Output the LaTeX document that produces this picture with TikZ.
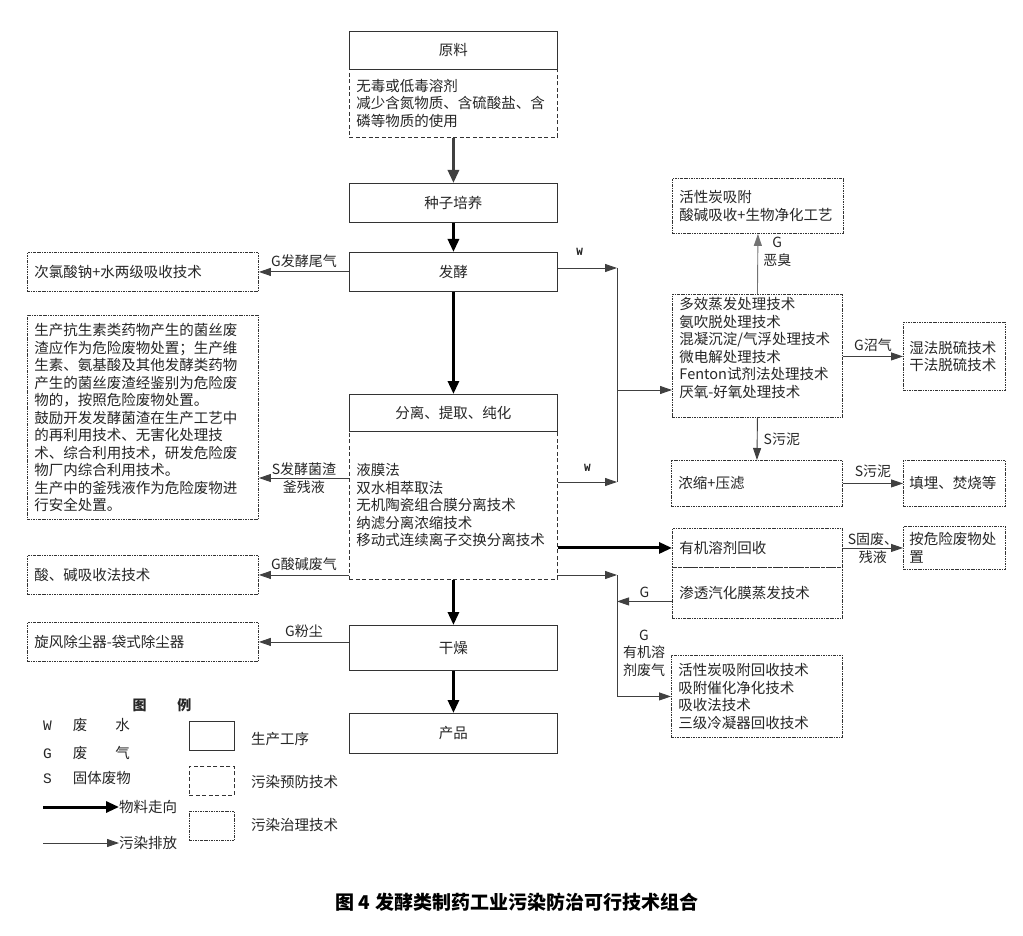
\documentclass[tikz,border=0pt]{standalone}
\usepackage{fontspec}
\setmainfont{Noto Sans CJK SC}
\setmonofont{Liberation Mono}
\usetikzlibrary{arrows.meta}

\begin{document}
\begin{tikzpicture}[x=1pt, y=-1pt,
  every node/.style={font=\fontsize{14.5}{17.5}\selectfont, text=black!85, inner sep=0pt},
  proc/.style={draw=black!80, line width=0.9pt, anchor=north west, minimum width=208pt},
  prev/.style={draw=black!80, line width=0.9pt, dash pattern=on 4pt off 2.5pt, anchor=north west, align=left, inner xsep=7pt},
  treat/.style={draw=black!80, line width=0.9pt, dash pattern=on 2.5pt off 1pt on 0.8pt off 1pt, anchor=north west, align=left, inner xsep=7pt},
  flow/.style={line width=3pt, -{Triangle[length=13pt, width=11pt]}},
  emis/.style={draw=black!75, line width=0.9pt, -{Triangle[length=12pt, width=8pt]}},
  lab/.style={font=\fontsize{14}{17.5}\selectfont, align=center},
  wlab/.style={font=\ttfamily\bfseries\fontsize{11}{13}\selectfont}]
\useasboundingbox (0,0) rectangle (1023,936);
\fill [white] (0,0) rectangle (1023,936);

% production line
\node [proc, minimum height=38pt] (yl) at (349,31) {原料};
\node [prev, text width=194pt, minimum height=68pt] (yld) at (349,69) {无毒或低毒溶剂\\减少含氮物质、含硫酸盐、含\\磷等物质的使用};
\node [proc, minimum height=39pt] (zp) at (349,183) {种子培养};
\node [proc, minimum height=39pt] (fj) at (349,252) {发酵};
\node [proc, minimum height=37pt] (fl) at (349,394) {分离、提取、纯化};
\node [prev, text width=194pt, minimum height=148pt] (fld) at (349,431) {液膜法\\双水相萃取法\\无机陶瓷组合膜分离技术\\纳滤分离浓缩技术\\移动式连续离子交换分离技术};
\node [proc, minimum height=45pt] (gz) at (349,625) {干燥};
\node [proc, minimum height=40pt] (cp) at (349,713) {产品};

\draw [flow, black!75] (yld.south) -- (zp.north);
\draw [flow] (zp.south) -- (fj.north);
\draw [flow] (fj.south) -- (fl.north);
\draw [flow] (fld.south) -- (gz.north);
\draw [flow] (gz.south) -- (cp.north);

% left side
\node [treat, text width=217pt, minimum height=39pt] (cl) at (27,252) {次氯酸钠+水两级吸收技术};
\node [treat, text width=217pt, minimum height=204pt] (jz) at (27,315) {生产抗生素类药物产生的菌丝废\\渣应作为危险废物处置；生产维\\生素、氨基酸及其他发酵类药物\\产生的菌丝废渣经鉴别为危险废\\物的，按照危险废物处置。\\鼓励开发发酵菌渣在生产工艺中\\的再利用技术、无害化处理技\\术、综合利用技术，研发危险废\\物厂内综合利用技术。\\生产中的釜残液作为危险废物进\\行安全处置。};
\node [treat, text width=217pt, minimum height=39pt] (sj) at (27,555) {酸、碱吸收法技术};
\node [treat, text width=217pt, minimum height=39pt] (xf) at (27,622) {旋风除尘器-袋式除尘器};

\coordinate (s1) at (0,478);
\draw [emis] (fj.west) -- node [lab, above=4pt] (lg1) {G发酵尾气} (cl.east);
\draw [emis] (fld.west |- s1) -- node [lab] (ls1) {S发酵菌渣\\釜残液} (jz.east |- s1);
\draw [emis] (fld.west |- sj.east) -- node [lab, above=4pt] (lg2) {G酸碱废气} (sj.east);
\draw [emis] (gz.west |- xf.east) -- node [lab, above=4pt] (lg3) {G粉尘} (xf.east);

% right side
\node [treat, text width=157pt, minimum height=55pt] (hxt) at (672,178) {活性炭吸附\\酸碱吸收+生物净化工艺};
\node [treat, text width=156pt, minimum height=123pt] (dx) at (672,294) {多效蒸发处理技术\\氨吹脱处理技术\\混凝沉淀/气浮处理技术\\微电解处理技术\\Fenton试剂法处理技术\\厌氧-好氧处理技术\\[-6pt]\strut};
\node [treat, text width=90pt, inner xsep=6pt, minimum height=68pt] (sf) at (903,322) {湿法脱硫技术\\干法脱硫技术};
\node [treat, text width=157pt, minimum height=46pt] (ns) at (671,460) {浓缩+压滤};
\node [treat, text width=90pt, inner xsep=6pt, minimum height=46pt] (tm) at (903,460) {填埋、焚烧等};
\node [treat, text width=156pt, minimum height=39pt] (yj) at (672,528) {有机溶剂回收};
\node [treat, text width=156pt, minimum height=51pt] (st) at (672,567) {渗透汽化膜蒸发技术};
\node [treat, text width=90pt, inner xsep=6pt, minimum height=43pt] (wx) at (903,526) {按危险废物处\\置};
\node [treat, text width=157pt, minimum height=82pt] (hx) at (671,655) {活性炭吸附回收技术\\吸附催化净化技术\\吸收法技术\\三级冷凝器回收技术};

\coordinate (w1) at (617,268);
\coordinate (w2) at (617,482);
\coordinate (w3) at (617,390);
\draw [emis] (fj.east |- w1) -- node [wlab, above=12pt, pos=0.37] (lw1) {W} (w1);
\draw [emis] (fld.east |- w2) -- node [wlab, above=10pt, pos=0.5] (lw2) {W} (w2);
\draw [draw=black!75, line width=0.9pt] (w1) -- (w2);
\draw [emis] (w3) -- (dx.west |- w3);

\draw [emis, draw=black!55] (dx.north) -- node [lab, right=5pt, pos=0.7] (lo) {G\\恶臭} (hxt.south);
\draw [emis] (dx.east |- sf.west) -- node [lab, above=4pt] (lz) {G沼气} (sf.west);
\draw [emis] (dx.south) -- node [lab, right=6pt] (lw) {S污泥} (ns.north);
\draw [emis] (ns.east) -- node [lab, above=5pt] (lw4) {S污泥} (tm.west);
\draw [flow] (fld.east |- yj.west) -- (yj.west);
\draw [emis] (yj.east) -- node [lab] (lgf) {S固废、\\残液} (wx.west);

\coordinate (g1) at (617,575);
\draw [emis] (fld.east |- g1) -- (g1);
\draw [emis] (g1) |- (hx.west);
\draw [emis] ([yshift=-8.5pt]st.west) -- node [lab, above=3pt] (lgs) {G} ([yshift=-8.5pt]st.west -| g1);
\node [lab] (lgy) at (644,653) {G\\有机溶\\剂废气};

% legend
\node [font=\bfseries\fontsize{14}{16}\selectfont] (lgt) at (162,705) {图\hspace{31pt}例};
\node [anchor=west] (lgw) at (43,725) {{\ttfamily W}\hspace{21pt}废\hspace{28pt}水};
\node [anchor=west] (lgg) at (43,753) {{\ttfamily G}\hspace{21pt}废\hspace{28pt}气};
\node [anchor=west] (lgs2) at (43,778) {{\ttfamily S}\hspace{21pt}固体废物};
\coordinate (la) at (43,807);
\coordinate (lb) at (43,843);
\node [anchor=west] (lgf2) at (119,807) {物料走向};
\node [anchor=west] (lge) at (119,843) {污染排放};
\draw [flow] (la) -- (lgf2.west);
\draw [emis] (lb) -- (lge.west);
\node [proc, minimum width=45pt, minimum height=29pt] (lr1) at (189,721) {};
\node [prev, minimum width=45pt, minimum height=29pt] (lr2) at (189,766) {};
\node [treat, minimum width=45pt, minimum height=29pt] (lr3) at (189,811) {};
\node [anchor=west] (lt1) at (251,739) {生产工序};
\node [anchor=west] (lt2) at (251,782) {污染预防技术};
\node [anchor=west] (lt3) at (251,825) {污染治理技术};

\node [font=\bfseries\fontsize{19}{22}\selectfont, text=black] (cap) at (517,902) {图 4\hspace{5pt}发酵类制药工业污染防治可行技术组合};
\end{tikzpicture}
\end{document}
